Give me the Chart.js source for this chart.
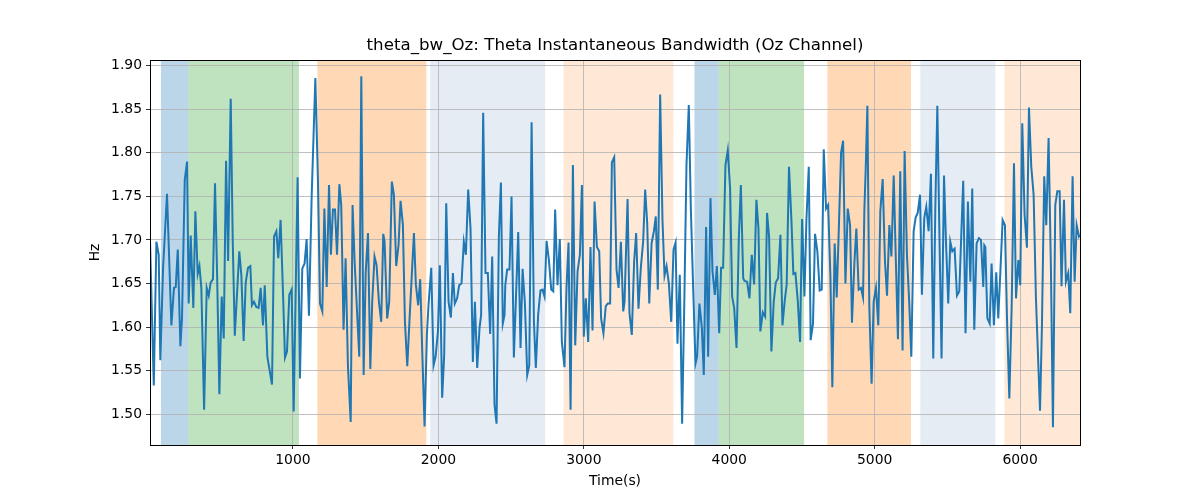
<!DOCTYPE html>
<html>
<head>
<meta charset="utf-8">
<title>theta_bw_Oz</title>
<script src="https://cdn.jsdelivr.net/npm/chart.js@4.4.1/dist/chart.umd.min.js"></script>
<style>
    html, body { margin: 0; padding: 0; background: #fff; }
    #wrap { width: 1200px; height: 500px; }
</style>
</head>
<body>
<div id="wrap"><canvas id="bwChart" width="1200" height="500"></canvas></div>
<script>
// Time stamps (s) and theta bandwidth (Hz)
const times = [
    17, 43, 61, 77, 88, 107, 134, 164, 182, 194, 208, 226, 237, 256, 272, 283, 297, 315, 329, 345,
    357, 370, 389, 407, 421, 434, 450, 464, 478, 494, 510, 524, 540, 554, 572, 586, 600, 631, 645, 661,
    675, 691, 707, 718, 732, 748, 764, 778, 794, 806, 824, 856, 870, 886, 899, 915, 932, 945, 959, 975,
    991, 1005, 1032, 1048, 1064, 1080, 1094, 1110, 1129, 1154, 1172, 1186, 1202, 1216, 1232, 1248, 1261, 1275, 1289, 1303,
    1319, 1332, 1348, 1362, 1378, 1397, 1410, 1424, 1456, 1470, 1486, 1500, 1516, 1532, 1545, 1561, 1575, 1591, 1607, 1621,
    1630, 1648, 1662, 1680, 1694, 1710, 1726, 1740, 1756, 1770, 1786, 1802, 1832, 1845, 1861, 1875, 1889, 1905, 1921, 1932,
    1951, 1967, 1981, 1997, 2010, 2026, 2040, 2054, 2070, 2086, 2100, 2113, 2129, 2143, 2159, 2175, 2189, 2205, 2221, 2237,
    2251, 2267, 2283, 2294, 2308, 2324, 2340, 2356, 2370, 2386, 2400, 2416, 2430, 2443, 2455, 2460, 2473, 2489, 2503, 2519,
    2535, 2549, 2565, 2579, 2595, 2611, 2625, 2641, 2657, 2670, 2686, 2702, 2716, 2730, 2744, 2760, 2776, 2790, 2803, 2819,
    2835, 2849, 2867, 2881, 2895, 2909, 2925, 2941, 2957, 2973, 2987, 3000, 3014, 3030, 3046, 3060, 3074, 3090, 3106, 3119,
    3135, 3151, 3165, 3181, 3193, 3209, 3225, 3239, 3255, 3271, 3280, 3301, 3314, 3330, 3346, 3360, 3376, 3392, 3408, 3422,
    3436, 3450, 3466, 3482, 3495, 3509, 3525, 3541, 3555, 3569, 3585, 3601, 3617, 3631, 3644, 3660, 3676, 3692, 3706, 3722,
    3736, 3752, 3768, 3779, 3795, 3812, 3825, 3841, 3855, 3871, 3885, 3901, 3915, 3931, 3944, 3958, 3974, 3990, 4006, 4020,
    4034, 4050, 4066, 4080, 4096, 4105, 4123, 4139, 4155, 4171, 4187, 4201, 4214, 4231, 4247, 4260, 4274, 4290, 4306, 4320,
    4336, 4352, 4366, 4382, 4395, 4411, 4428, 4441, 4455, 4471, 4487, 4501, 4517, 4531, 4547, 4560, 4576, 4590, 4606, 4622,
    4636, 4650, 4666, 4680, 4696, 4709, 4725, 4739, 4755, 4769, 4783, 4799, 4815, 4831, 4844, 4861, 4874, 4890, 4906, 4920,
    4929, 4938, 4950, 4963, 4979, 4993, 5009, 5025, 5039, 5055, 5071, 5085, 5101, 5115, 5131, 5144, 5160, 5176, 5192, 5206,
    5222, 5238, 5252, 5268, 5282, 5296, 5312, 5325, 5341, 5355, 5371, 5387, 5403, 5417, 5431, 5447, 5460, 5477, 5490, 5506,
    5520, 5534, 5550, 5566, 5582, 5598, 5609, 5625, 5641, 5658, 5671, 5685, 5701, 5717, 5731, 5747, 5754, 5761, 5775, 5791,
    5804, 5820, 5836, 5850, 5864, 5880, 5896, 5910, 5926, 5942, 5958, 5972, 5988, 6001, 6015, 6031, 6047, 6061, 6077, 6093,
    6109, 6137, 6150, 6166, 6180, 6196, 6212, 6226, 6242, 6256, 6272, 6285, 6302, 6315, 6331, 6345, 6361, 6375, 6389, 6405,
    6412
];

const hz = [
    1.700, 1.533, 1.698, 1.683, 1.562, 1.668, 1.753, 1.602, 1.645, 1.646, 1.689, 1.578, 1.610, 1.769, 1.790, 1.627, 1.705, 1.622, 1.733, 1.661,
    1.670, 1.645, 1.505, 1.645, 1.636, 1.651, 1.655, 1.765, 1.664, 1.523, 1.635, 1.587, 1.791, 1.676, 1.862, 1.698, 1.590, 1.687, 1.660, 1.584,
    1.651, 1.668, 1.670, 1.625, 1.629, 1.623, 1.622, 1.645, 1.602, 1.648, 1.566, 1.534, 1.704, 1.710, 1.679, 1.723, 1.637, 1.565, 1.572, 1.637,
    1.643, 1.503, 1.772, 1.541, 1.667, 1.673, 1.701, 1.613, 1.752, 1.886, 1.767, 1.627, 1.618, 1.736, 1.646, 1.763, 1.683, 1.735, 1.735, 1.683,
    1.764, 1.740, 1.597, 1.679, 1.556, 1.491, 1.740, 1.675, 1.566, 1.888, 1.545, 1.662, 1.708, 1.552, 1.629, 1.681, 1.671, 1.629, 1.606, 1.707,
    1.698, 1.610, 1.629, 1.767, 1.752, 1.670, 1.694, 1.745, 1.717, 1.606, 1.555, 1.610, 1.708, 1.649, 1.625, 1.655, 1.572, 1.486, 1.591, 1.625,
    1.668, 1.556, 1.566, 1.595, 1.671, 1.519, 1.568, 1.742, 1.629, 1.611, 1.662, 1.627, 1.633, 1.648, 1.650, 1.698, 1.683, 1.758, 1.713, 1.560,
    1.629, 1.553, 1.599, 1.614, 1.846, 1.662, 1.662, 1.592, 1.681, 1.511, 1.489, 1.704, 1.766, 1.604, 1.614, 1.648, 1.666, 1.666, 1.750, 1.565,
    1.641, 1.709, 1.576, 1.667, 1.627, 1.545, 1.556, 1.835, 1.606, 1.553, 1.614, 1.642, 1.643, 1.635, 1.699, 1.677, 1.643, 1.641, 1.735, 1.648,
    1.701, 1.583, 1.554, 1.645, 1.697, 1.505, 1.786, 1.579, 1.664, 1.683, 1.763, 1.589, 1.633, 1.583, 1.692, 1.596, 1.744, 1.692, 1.687, 1.610,
    1.593, 1.624, 1.627, 1.627, 1.789, 1.795, 1.666, 1.645, 1.698, 1.618, 1.629, 1.747, 1.616, 1.591, 1.675, 1.708, 1.621, 1.668, 1.698, 1.758,
    1.719, 1.627, 1.696, 1.710, 1.727, 1.643, 1.867, 1.723, 1.659, 1.670, 1.650, 1.606, 1.689, 1.697, 1.581, 1.660, 1.489, 1.637, 1.786, 1.855,
    1.736, 1.645, 1.558, 1.566, 1.627, 1.599, 1.545, 1.715, 1.566, 1.748, 1.664, 1.637, 1.670, 1.593, 1.668, 1.668, 1.786, 1.803, 1.759, 1.635,
    1.622, 1.576, 1.702, 1.763, 1.656, 1.653, 1.652, 1.633, 1.683, 1.649, 1.746, 1.713, 1.595, 1.617, 1.612, 1.731, 1.704, 1.572, 1.629, 1.651,
    1.656, 1.706, 1.602, 1.631, 1.649, 1.784, 1.721, 1.661, 1.662, 1.631, 1.583, 1.724, 1.635, 1.725, 1.784, 1.585, 1.604, 1.707, 1.687, 1.642,
    1.643, 1.804, 1.736, 1.740, 1.656, 1.531, 1.696, 1.634, 1.721, 1.800, 1.814, 1.650, 1.736, 1.717, 1.605, 1.675, 1.713, 1.643, 1.645, 1.634,
    1.733, 1.779, 1.854, 1.625, 1.535, 1.629, 1.645, 1.602, 1.733, 1.770, 1.675, 1.636, 1.717, 1.681, 1.774, 1.687, 1.586, 1.779, 1.573, 1.802,
    1.683, 1.627, 1.566, 1.710, 1.726, 1.731, 1.752, 1.637, 1.725, 1.738, 1.710, 1.776, 1.564, 1.736, 1.854, 1.689, 1.564, 1.774, 1.700, 1.627,
    1.698, 1.687, 1.690, 1.636, 1.641, 1.717, 1.768, 1.593, 1.744, 1.652, 1.759, 1.597, 1.696, 1.702, 1.700, 1.646, 1.694, 1.692, 1.610, 1.604,
    1.673, 1.602, 1.663, 1.610, 1.662, 1.723, 1.717, 1.610, 1.518, 1.622, 1.788, 1.633, 1.677, 1.648, 1.834, 1.729, 1.691, 1.852, 1.784, 1.752,
    1.633, 1.504, 1.599, 1.773, 1.717, 1.817, 1.668, 1.485, 1.740, 1.756, 1.756, 1.647, 1.746, 1.652, 1.662, 1.616, 1.773, 1.652, 1.717, 1.704,
    1.706
];

// Shaded phases (start / end in seconds and which kind of phase)
const spanStart = [92, 281, 1168, 1944, 2861, 3761, 3928, 4675, 5314, 5892];
const spanEnd   = [281, 1041, 1917, 2734, 3616, 3928, 4515, 5250, 5830, 6420];
const spanKind  = ["a", "b", "c", "d", "e", "a", "b", "c", "d", "e"];

const xTicks = [1000, 2000, 3000, 4000, 5000, 6000];
const yTicks = [1.50, 1.55, 1.60, 1.65, 1.70, 1.75, 1.80, 1.85, 1.90];

const chartTitle = "theta_bw_Oz: Theta Instantaneous Bandwidth (Oz Channel)";

const spanColors = {
    a: "rgba(31, 119, 180, 0.3)",
    b: "rgba(44, 160, 44, 0.3)",
    c: "rgba(255, 127, 14, 0.3)",
    d: "rgba(176, 196, 222, 0.32)",
    e: "rgba(255, 127, 14, 0.17)"
};

const FONT = "'DejaVu Sans', sans-serif";

// spans go under the grid, frame + title on top
const spanPlugin = {
    id: "spans",
    beforeDraw(chart) {
        const { ctx, chartArea, scales } = chart;
        ctx.save();
        ctx.beginPath();
        ctx.rect(chartArea.left, chartArea.top, chartArea.right - chartArea.left, chartArea.bottom - chartArea.top);
        ctx.clip();
        spanStart.forEach((s, i) => {
            const x0 = scales.x.getPixelForValue(s);
            const x1 = scales.x.getPixelForValue(spanEnd[i]);
            ctx.fillStyle = spanColors[spanKind[i]];
            ctx.fillRect(x0, chartArea.top, x1 - x0, chartArea.bottom - chartArea.top);
        });
        ctx.restore();
    },
    afterDraw(chart) {
        const { ctx, chartArea } = chart;
        ctx.save();
        ctx.strokeStyle = "#000";
        ctx.lineWidth = 1;
        ctx.strokeRect(Math.round(chartArea.left) + 0.5, Math.round(chartArea.top) + 0.5,
            Math.round(chartArea.right - chartArea.left), Math.round(chartArea.bottom - chartArea.top));

        // title centred over the plot area, like matplotlib
        ctx.fillStyle = "#000";
        ctx.font = "16.67px " + FONT;
        ctx.textAlign = "center";
        ctx.textBaseline = "middle";
        ctx.fillText(chartTitle, (chartArea.left + chartArea.right) / 2, 46);
        ctx.restore();
    }
};

const points = times.map((t, i) => ({ x: t, y: hz[i] }));

const ctx = document.getElementById("bwChart").getContext("2d");

new Chart(ctx, {
    type: "line",
    data: {
        datasets: [{
            data: points,
            borderColor: "#1f77b4",
            borderWidth: 2,
            pointRadius: 0,
            tension: 0,
            fill: false
        }]
    },
    options: {
        responsive: false,
        animation: false,
        events: [],
        layout: {
            padding: { left: 0, right: 120, top: 60, bottom: 0 }
        },
        plugins: {
            legend: { display: false },
            tooltip: { enabled: false },
            title: { display: false }
        },
        scales: {
            x: {
                type: "linear",
                min: times[0],
                max: times[times.length - 1],
                afterBuildTicks: axis => { axis.ticks = xTicks.map(v => ({ value: v })); },
                afterFit: axis => { axis.height = 55; },
                ticks: {
                    color: "#000",
                    font: { family: FONT, size: 13.9 },
                    padding: 3,
                    maxRotation: 0,
                    callback: v => String(v)
                },
                grid: {
                    color: "#b0b0b0",
                    lineWidth: 0.8,
                    tickColor: "#000",
                    tickLength: 4
                },
                border: { display: true, color: "#000", width: 1 },
                title: {
                    display: true,
                    text: "Time(s)",
                    color: "#000",
                    font: { family: FONT, size: 13.9 },
                    padding: { top: 0, bottom: 10 }
                }
            },
            y: {
                min: 1.4646,
                max: 1.9066,
                afterBuildTicks: axis => { axis.ticks = yTicks.map(v => ({ value: v })); },
                afterFit: axis => { axis.width = 150; },
                ticks: {
                    color: "#000",
                    font: { family: FONT, size: 13.9 },
                    padding: 4,
                    callback: v => Number(v).toFixed(2)
                },
                grid: {
                    color: "#b0b0b0",
                    lineWidth: 0.8,
                    tickColor: "#000",
                    tickLength: 4
                },
                border: { display: true, color: "#000", width: 1 },
                title: {
                    display: true,
                    text: "Hz",
                    color: "#000",
                    font: { family: FONT, size: 13.9 },
                    padding: { top: 87, bottom: 0 }
                }
            }
        }
    },
    plugins: [spanPlugin]
});
</script>
</body>
</html>
